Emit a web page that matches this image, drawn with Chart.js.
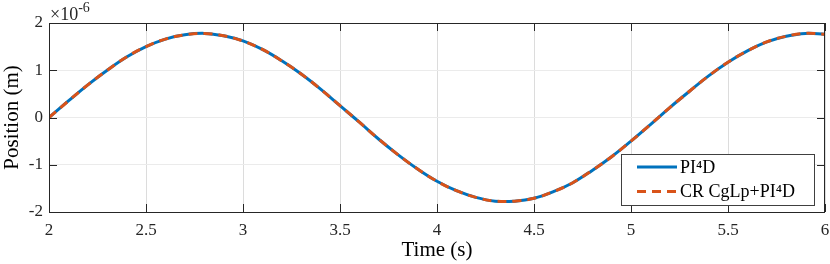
<!DOCTYPE html>
<html>
<head>
<meta charset="utf-8">
<script src="https://cdn.jsdelivr.net/npm/chart.js@4.4.1/dist/chart.umd.min.js"></script>
<style>
  html, body { margin: 0; padding: 0; background: #fff; }
  #wrap { width: 830px; height: 264px; position: relative; }
</style>
</head>
<body>
<div id="wrap"><canvas id="posChart" width="830" height="264"></canvas></div>
<script>
// time (s)
const timeS = [2.0, 2.1, 2.2, 2.3, 2.4, 2.5, 2.6, 2.7, 2.8, 2.9,
               3.0, 3.1, 3.2, 3.3, 3.4, 3.5, 3.6, 3.7, 3.8, 3.9,
               4.0, 4.1, 4.2, 4.3, 4.4, 4.5, 4.6, 4.7, 4.8, 4.9,
               5.0, 5.1, 5.2, 5.3, 5.4, 5.5, 5.6, 5.7, 5.8, 5.9, 6.0];
// position, x1e-6 m
const pi4d = [0.00, 0.35, 0.69, 1.00, 1.28, 1.50, 1.66, 1.75, 1.78, 1.73,
              1.62, 1.44, 1.20, 0.92, 0.60, 0.25, -0.10, -0.46, -0.79, -1.09,
              -1.35, -1.55, -1.69, -1.77, -1.77, -1.71, -1.57, -1.38, -1.12, -0.83,
              -0.50, -0.15, 0.21, 0.55, 0.88, 1.17, 1.41, 1.60, 1.72, 1.78, 1.76];
const crCgLp = [0.00, 0.35, 0.69, 1.00, 1.28, 1.50, 1.66, 1.75, 1.78, 1.73,
                1.62, 1.44, 1.20, 0.92, 0.60, 0.25, -0.10, -0.46, -0.79, -1.09,
                -1.35, -1.55, -1.69, -1.77, -1.77, -1.71, -1.57, -1.38, -1.12, -0.83,
                -0.50, -0.15, 0.21, 0.55, 0.88, 1.17, 1.41, 1.60, 1.72, 1.78, 1.76];
const seriesLabels = ['PI\u2074D', 'CR CgLp+PI\u2074D'];
const xTicks = [2, 2.5, 3, 3.5, 4, 4.5, 5, 5.5, 6];
const yTicks = [-2, -1, 0, 1, 2];

const FONT = '"Liberation Serif", "Times New Roman", serif';
const BLUE = '#0072BD';
const ORANGE = '#D95319';

const toPoints = (ys) => timeS.map((t, i) => ({ x: t, y: ys[i] }));

// box, inward ticks, exponent label and legend (MATLAB look)
const matlabFrame = {
  id: 'matlabFrame',
  afterDraw(chart) {
    const { ctx, chartArea: a, scales } = chart;
    ctx.save();
    ctx.strokeStyle = '#262626';
    ctx.lineWidth = 1;
    ctx.beginPath();
    xTicks.forEach(v => {
      const px = Math.round(scales.x.getPixelForValue(v)) + 0.5;
      ctx.moveTo(px, a.bottom); ctx.lineTo(px, a.bottom - 8);
      ctx.moveTo(px, a.top); ctx.lineTo(px, a.top + 8);
    });
    yTicks.forEach(v => {
      const py = Math.round(scales.y.getPixelForValue(v)) + 0.5;
      ctx.moveTo(a.left, py); ctx.lineTo(a.left + 8, py);
      ctx.moveTo(a.right, py); ctx.lineTo(a.right - 8, py);
    });
    ctx.stroke();
    ctx.strokeRect(Math.round(a.left) + 0.5, Math.round(a.top) + 0.5,
                   Math.round(a.right - a.left) - 1, Math.round(a.bottom - a.top));

    // exponent
    ctx.fillStyle = '#262626';
    ctx.textBaseline = 'alphabetic';
    ctx.textAlign = 'left';
    ctx.font = '18px ' + FONT;
    ctx.fillText('\u00d710', a.left + 1, 20);
    const w = ctx.measureText('\u00d710').width;
    ctx.font = '14px ' + FONT;
    ctx.fillText('-6', a.left + 1 + w, 12);

    // legend
    const lx = 621, ly = 154, lw = 193, lh = 51;
    ctx.fillStyle = '#fff';
    ctx.fillRect(lx, ly, lw, lh);
    ctx.strokeStyle = '#404040';
    ctx.strokeRect(lx + 0.5, ly + 0.5, lw, lh);
    chart.data.datasets.forEach((ds, i) => {
      const yy = ly + 13 + i * 24.5;
      ctx.strokeStyle = ds.borderColor;
      ctx.lineWidth = ds.borderWidth;
      ctx.setLineDash(ds.borderDash || []);
      ctx.beginPath();
      ctx.moveTo(637, yy); ctx.lineTo(677, yy);
      ctx.stroke();
      ctx.setLineDash([]);
      ctx.fillStyle = '#000';
      ctx.font = '18px ' + FONT;
      ctx.textBaseline = 'middle';
      ctx.fillText(ds.label, 680, yy + 1);
    });
    ctx.restore();
  }
};

new Chart(document.getElementById('posChart'), {
  type: 'line',
  data: {
    datasets: [
      {
        label: seriesLabels[0],
        data: toPoints(pi4d),
        borderColor: BLUE,
        borderWidth: 3,
        pointRadius: 0,
        tension: 0.4,
        order: 2,
        fill: false
      },
      {
        label: seriesLabels[1],
        data: toPoints(crCgLp),
        borderColor: ORANGE,
        borderWidth: 3,
        borderDash: [9, 6],
        pointRadius: 0,
        tension: 0.4,
        order: 1,
        fill: false
      }
    ]
  },
  options: {
    responsive: false,
    animation: false,
    layout: { padding: { left: 0, right: 5, top: 23, bottom: 0 } },
    plugins: { legend: { display: false }, tooltip: { enabled: false } },
    scales: {
      x: {
        type: 'linear',
        min: 2, max: 6,
        afterBuildTicks: s => { s.ticks = xTicks.map(v => ({ value: v })); },
        afterFit: s => { s.height = 52; s.paddingLeft = 0; s.paddingRight = 0; },
        grid: { color: '#dcdcdc', drawTicks: false },
        border: { display: false },
        ticks: { color: '#262626', padding: 8, callback: v => String(v),
                 font: { family: FONT, size: 17 } },
        title: { display: true, text: 'Time (s)', color: '#000', padding: { top: 0, bottom: 1 },
                 font: { family: FONT, size: 21 } }
      },
      y: {
        min: -2, max: 2,
        afterBuildTicks: s => { s.ticks = yTicks.map(v => ({ value: v })); },
        afterFit: s => { s.width = 49; s.paddingTop = 0; s.paddingBottom = 0; },
        grid: { color: '#ebebeb', drawTicks: false },
        border: { display: false },
        ticks: { color: '#262626', padding: 6, callback: v => String(v),
                 font: { family: FONT, size: 17 } },
        title: { display: true, text: 'Position (m)', color: '#000', padding: { top: 0, bottom: 0 },
                 font: { family: FONT, size: 21 } }
      }
    }
  },
  plugins: [matlabFrame]
});
</script>
</body>
</html>
